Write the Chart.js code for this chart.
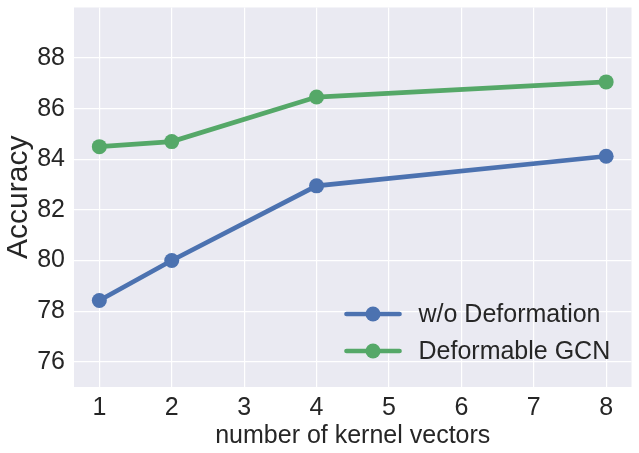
<!DOCTYPE html>
<html>
<head>
<meta charset="utf-8">
<script src="https://cdn.jsdelivr.net/npm/chart.js@4/dist/chart.umd.min.js"></script>
<style>
  html, body { margin: 0; padding: 0; background: #fff; }
  #wrap { width: 639px; height: 453px; }
</style>
</head>
<body>
<div id="wrap"><canvas id="chart" width="639" height="453"></canvas></div>
<script>
// valores
const kernelVectors = [1, 2, 4, 8];
const accWithoutDeform = [78.42, 80.0, 82.95, 84.12];
const accDeformable = [84.5, 84.7, 86.46, 87.06];
const xTicks = [1, 2, 3, 4, 5, 6, 7, 8];
const yTicks = [76, 78, 80, 82, 84, 86, 88];
const seriesNames = ['w/o Deformation', 'Deformable GCN'];

const FONT = '"Liberation Sans", Arial, sans-serif';
const TEXT = '#262626';
const BLUE = '#4C72B0';
const GREEN = '#55A868';

const toPoints = (xs, ys) => xs.map((x, i) => ({ x: x, y: ys[i] }));

// fundo cinza-azulado estilo seaborn
const plotBackground = {
  id: 'plotBackground',
  beforeDraw(chart) {
    const { ctx, chartArea: a } = chart;
    ctx.save();
    ctx.fillStyle = '#EAEAF2';
    ctx.fillRect(a.left, a.top, a.right - a.left, a.bottom - a.top);
    ctx.restore();
  }
};

// legenda dentro da área do gráfico (canto inferior direito)
const innerLegend = {
  id: 'innerLegend',
  afterDatasetsDraw(chart) {
    const { ctx, chartArea: a } = chart;
    const x0 = a.right - 285;
    const rows = [a.bottom - 73, a.bottom - 36];
    ctx.save();
    chart.data.datasets.forEach((ds, i) => {
      const y = rows[i];
      ctx.strokeStyle = ds.borderColor;
      ctx.lineWidth = 4.7;
      ctx.lineCap = 'round';
      ctx.beginPath();
      ctx.moveTo(x0, y);
      ctx.lineTo(x0 + 53, y);
      ctx.stroke();
      ctx.fillStyle = ds.backgroundColor;
      ctx.beginPath();
      ctx.arc(x0 + 26.5, y, 7.5, 0, Math.PI * 2);
      ctx.fill();
      ctx.fillStyle = TEXT;
      ctx.font = '25px ' + FONT;
      ctx.textAlign = 'left';
      ctx.textBaseline = 'middle';
      ctx.fillText(ds.label, x0 + 72, y + 1);
    });
    ctx.restore();
  }
};

new Chart(document.getElementById('chart'), {
  type: 'line',
  data: {
    datasets: [
      {
        label: seriesNames[0],
        data: toPoints(kernelVectors, accWithoutDeform),
        borderColor: BLUE,
        backgroundColor: BLUE,
        borderWidth: 4.7,
        pointRadius: 7.5,
        pointBorderWidth: 0,
        borderCapStyle: 'round'
      },
      {
        label: seriesNames[1],
        data: toPoints(kernelVectors, accDeformable),
        borderColor: GREEN,
        backgroundColor: GREEN,
        borderWidth: 4.7,
        pointRadius: 7.5,
        pointBorderWidth: 0,
        borderCapStyle: 'round'
      }
    ]
  },
  options: {
    responsive: false,
    animation: false,
    devicePixelRatio: 1,
    clip: false,
    layout: { padding: { left: 0, top: 6, right: 7, bottom: 0 } },
    plugins: {
      legend: { display: false },
      tooltip: { enabled: false }
    },
    scales: {
      x: {
        type: 'linear',
        min: 0.65,
        max: 8.35,
        afterBuildTicks: (scale) => { scale.ticks = xTicks.map(v => ({ value: v })); },
        afterFit: (scale) => { scale.height = 66; scale.paddingLeft = 0; scale.paddingRight = 0; },
        border: { display: false },
        grid: { color: '#ffffff', lineWidth: 1.2, drawTicks: false },
        ticks: { color: TEXT, font: { family: FONT, size: 25 }, padding: 6, maxRotation: 0 },
        title: {
          display: true,
          text: 'number of kernel vectors',
          color: TEXT,
          font: { family: FONT, size: 25 },
          padding: { top: 0, bottom: 2 }
        }
      },
      y: {
        min: 75,
        max: 90,
        afterBuildTicks: (scale) => { scale.ticks = yTicks.map(v => ({ value: v })); },
        afterFit: (scale) => { scale.width = 74; scale.paddingTop = 0; scale.paddingBottom = 0; },
        border: { display: false },
        grid: { color: '#ffffff', lineWidth: 1.2, drawTicks: false },
        ticks: { color: TEXT, font: { family: FONT, size: 25 }, padding: 9 },
        title: {
          display: true,
          text: 'Accuracy',
          color: TEXT,
          font: { family: FONT, size: 30 },
          padding: { top: 1, bottom: 0 }
        }
      }
    }
  },
  plugins: [plotBackground, innerLegend]
});
</script>
</body>
</html>
